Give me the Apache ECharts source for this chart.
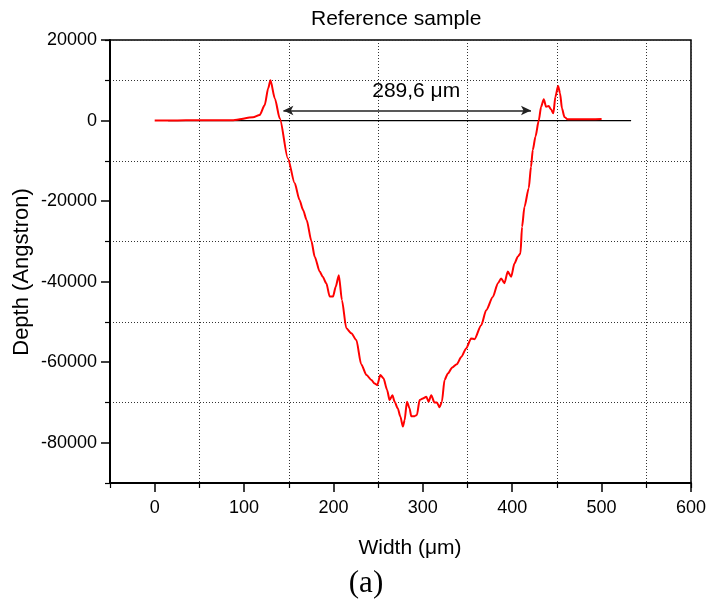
<!DOCTYPE html>
<html>
<head>
<meta charset="utf-8">
<script src="https://cdn.jsdelivr.net/npm/echarts@6/dist/echarts.min.js"></script>
<style>
html,body{margin:0;padding:0;background:#fff;}
#chart{width:709px;height:605px;}
</style>
</head>
<body>
<div id="chart"></div>
<script>
// Profile data
var widths = [0, 20, 50, 88, 110, 117.5, 123, 127, 129.5, 134.4, 140, 149, 156.7, 162, 166, 170, 175.4, 179, 184.6, 188, 192, 195.8, 199.5, 202.5, 206, 209.5, 214.4, 220, 225.6, 231, 237, 242.4, 246, 249, 252.4, 256, 260, 262.8, 266, 268.4, 272, 274.8, 277.7, 279.6, 282.2, 285.2, 287, 290.8, 293.4, 296.4, 300, 303.9, 306.4, 309.4, 313, 315.7, 318.7, 321.3, 324.3, 328, 332.9, 338, 343, 348.5, 354, 357.8, 365.3, 370.9, 378.3, 384, 387.6, 391.3, 395, 398.8, 402.5, 406.2, 409.2, 411, 413.7, 418.5, 421, 423, 426, 429.7, 432.3, 435.3, 437.9, 440.8, 443.4, 446, 448.3, 451.3, 453.5, 455.7, 458.4, 462, 480, 500];
var depths = [0, 0, 100, 100, 800, 1400, 3800, 8000, 10000, 5500, 500, -9400, -15600, -19700, -22200, -24700, -30000, -33800, -37500, -38800, -40400, -43700, -43700, -41300, -38400, -44600, -51600, -52800, -54500, -60500, -63200, -64400, -65300, -65700, -63200, -64000, -66900, -69400, -68200, -69800, -71500, -73500, -76000, -74400, -69800, -71500, -73400, -73400, -73100, -69400, -69000, -68600, -69800, -68200, -70000, -70000, -71200, -69800, -64400, -62800, -61300, -60500, -58700, -56600, -54100, -54300, -50800, -47100, -43800, -40400, -39200, -40400, -37500, -38800, -35500, -33800, -33000, -26400, -21400, -16800, -11500, -7300, -4000, 0, 3400, 5300, 3400, 3600, 2800, 1800, 5900, 8600, 6800, 3000, 900, 300, 300, 400];

// Reference baseline and width arrow
var baselineX = [15, 533];
var baselineY = [0, 0];
var arrowX = [144, 421];
var arrowY = 2500;
var arrowText = '289,6 μm';

// Tick labels
var xTickValues = [0, 100, 200, 300, 400, 500, 600];
var yTickValues = [-80000, -60000, -40000, -20000, 0, 20000];

var FONT = '"Liberation Sans", Arial, Helvetica, sans-serif';

var profile = widths.map(function (w, i) { return [w, depths[i]]; });
var baseline = baselineX.map(function (w, i) { return [w, baselineY[i]]; });

var chart = echarts.init(document.getElementById('chart'), null, {renderer: 'canvas'});

var gridLine = {show: true, lineStyle: {color: '#333', width: 1, type: [1, 2]}};

var option = {
  backgroundColor: '#fff',
  animation: false,
  title: [
    {text: 'Reference sample', left: 306, top: 4,
     textStyle: {fontFamily: FONT, fontSize: 21, fontWeight: 'normal', color: '#000'}},
    {text: '(a)', left: 361, top: 563, textAlign: 'center',
     textStyle: {fontFamily: '"Liberation Serif", "Times New Roman", serif', fontSize: 31, fontWeight: 'normal', color: '#000'}}
  ],
  graphic: [
    {type: 'text', x: 22, y: 272, rotation: Math.PI / 2, silent: true,
     style: {text: 'Depth (Angstron)', font: '22px ' + FONT, fill: '#000', align: 'center', verticalAlign: 'middle'}},
    {type: 'text', x: 410, y: 548, silent: true,
     style: {text: 'Width (μm)', font: '21px ' + FONT, fill: '#000', align: 'center', verticalAlign: 'middle'}}
  ],
  grid: {left: 110, right: 17, top: 40, bottom: 122, show: true, borderColor: '#000', borderWidth: 1.5, backgroundColor: 'transparent'},
  xAxis: [
    {
      type: 'value', min: -50, max: 600, interval: 50, position: 'bottom',
      axisLine: {onZero: false, lineStyle: {color: '#000', width: 2}},
      axisTick: {show: true, length: 9, customValues: xTickValues, lineStyle: {color: '#000', width: 1.5}},
      axisLabel: {customValues: xTickValues, margin: 16, fontFamily: FONT, fontSize: 18, color: '#000',
        formatter: function (v) { return v % 100 === 0 ? String(v) : ''; }},
      splitLine: {show: false}
    },
    {
      type: 'value', min: -50, max: 600, interval: 100, position: 'bottom',
      axisLine: {show: false, onZero: false},
      axisTick: {show: true, length: 5, lineStyle: {color: '#000', width: 1.2}},
      axisLabel: {show: false},
      splitLine: gridLine
    }
  ],
  yAxis: [
    {
      type: 'value', min: -90000, max: 20000, interval: 10000, position: 'left',
      axisLine: {onZero: false, lineStyle: {color: '#000', width: 2}},
      axisTick: {show: true, length: 9, customValues: yTickValues, lineStyle: {color: '#000', width: 1.5}},
      axisLabel: {customValues: yTickValues, margin: 13, fontFamily: FONT, fontSize: 18, color: '#000',
        formatter: function (v) { return v % 20000 === 0 ? String(v) : ''; }},
      splitLine: {show: false}
    },
    {
      type: 'value', min: -90000, max: 20000, interval: 20000, position: 'left',
      axisLine: {show: false, onZero: false},
      axisTick: {show: true, length: 5, lineStyle: {color: '#000', width: 1.2}},
      axisLabel: {show: false},
      splitLine: gridLine
    }
  ],
  series: [
    {
      name: 'baseline', type: 'line', xAxisIndex: 0, yAxisIndex: 0,
      data: baseline, showSymbol: false, symbol: 'none', silent: true, z: 2,
      lineStyle: {color: '#000', width: 1.3},
      markLine: {
        silent: true, symbol: ['arrow', 'arrow'], symbolSize: [7, 10],
        lineStyle: {color: '#222', width: 1.5, type: 'solid'},
        label: {show: true, position: 'middle', formatter: arrowText, distance: 9, offset: [9, 0],
          fontFamily: FONT, fontSize: 21, color: '#000'},
        data: [[{coord: [arrowX[0], arrowY]}, {coord: [arrowX[1], arrowY]}]]
      }
    },
    {
      name: 'profile', type: 'line', xAxisIndex: 0, yAxisIndex: 0,
      data: profile, showSymbol: false, symbol: 'none', z: 3,
      smooth: 0.25, smoothMonotone: 'x',
      lineStyle: {color: '#ff0000', width: 2}
    }
  ]
};
chart.setOption(option);
</script>
</body>
</html>
